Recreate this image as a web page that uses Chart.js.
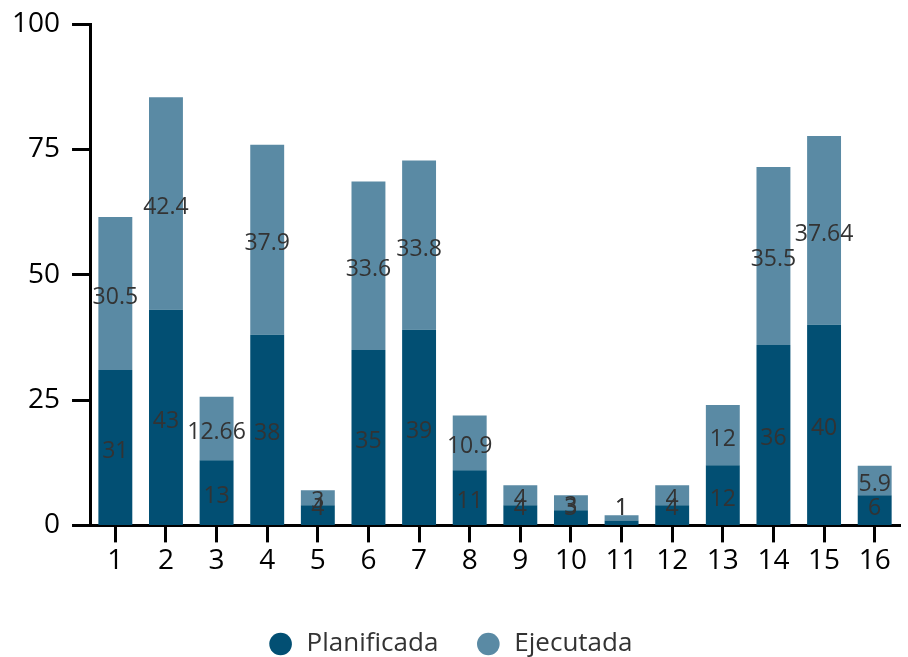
<!DOCTYPE html>
<html>
<head>
<meta charset="utf-8">
<script src="https://cdn.jsdelivr.net/npm/chart.js@4"></script>
<style>
    html, body { margin: 0; padding: 0; background: #ffffff; }
    #wrap { width: 908px; height: 657px; position: relative; }
</style>
</head>
<body>
<div id="wrap"><canvas id="chartBarras"></canvas></div>
<script>
// Data
const categorias = ['1', '2', '3', '4', '5', '6', '7', '8', '9', '10', '11', '12', '13', '14', '15', '16'];
const planificada = [31, 43, 13, 38, 4, 35, 39, 11, 4, 3, 1, 4, 12, 36, 40, 6];
const ejecutada = [30.5, 42.4, 12.66, 37.9, 3, 33.6, 33.8, 10.9, 4, 3, 1, 4, 12, 35.5, 37.64, 5.9];
const ticksY = [0, 25, 50, 75, 100];

const FUENTE = "'Open Sans', 'DejaVu Sans', sans-serif";

// Simple value labels drawn in the middle of each segment
const etiquetasPlugin = {
    id: 'etiquetas',
    afterDatasetsDraw(chart) {
        const ctx = chart.ctx;
        const area = chart.chartArea;
        ctx.save();
        ctx.font = '23px ' + FUENTE;
        ctx.fillStyle = '#333333';
        ctx.textAlign = 'center';
        ctx.textBaseline = 'middle';
        chart.data.datasets.forEach((ds, i) => {
            const meta = chart.getDatasetMeta(i);
            meta.data.forEach((bar, j) => {
                const centro = (bar.y + bar.base) / 2;
                const y = Math.min(centro + 4, area.bottom - 17);
                ctx.fillText(String(ds.data[j]), bar.x, y);
            });
        });
        ctx.restore();
    }
};

const ctx = document.getElementById('chartBarras');
new Chart(ctx, {
    type: 'bar',
    data: {
        labels: categorias,
        datasets: [{
            label: 'Planificada',
            data: planificada,
            backgroundColor: '#024f73',
            barPercentage: 0.67,
            categoryPercentage: 1
        }, {
            label: 'Ejecutada',
            data: ejecutada,
            backgroundColor: '#5a8aa4',
            barPercentage: 0.67,
            categoryPercentage: 1
        }]
    },
    options: {
        responsive: true,
        maintainAspectRatio: false,
        animation: false,
        layout: {
            padding: { top: 0, right: 8, left: 0, bottom: -10 }
        },
        plugins: {
            legend: {
                position: 'bottom',
                title: {
                    display: true,
                    text: '',
                    padding: 1,
                    font: { size: 10 }
                },
                labels: {
                    usePointStyle: true,
                    pointStyle: 'circle',
                    boxHeight: 16,
                    padding: 37,
                    color: '#333333',
                    font: { family: FUENTE, size: 26 }
                }
            },
            tooltip: { enabled: false }
        },
        scales: {
            x: {
                stacked: true,
                grid: {
                    offset: false,
                    drawOnChartArea: false,
                    drawTicks: true,
                    tickLength: 17,
                    tickWidth: 3,
                    tickColor: '#000000'
                },
                border: { color: '#000000', width: 3 },
                ticks: {
                    color: '#000000',
                    padding: 2,
                    font: { family: FUENTE, size: 28 }
                }
            },
            y: {
                stacked: true,
                min: 0,
                max: 100,
                afterBuildTicks: (axis) => {
                    axis.ticks = ticksY.map(v => ({ value: v }));
                },
                afterFit: (axis) => {
                    // keep the top tick where the reference has it
                    axis.paddingTop = 24;
                },
                grid: {
                    drawOnChartArea: false,
                    drawTicks: true,
                    tickLength: 18,
                    tickWidth: 3,
                    tickColor: '#000000'
                },
                border: { color: '#000000', width: 3 },
                ticks: {
                    color: '#000000',
                    padding: 12,
                    font: { family: FUENTE, size: 28 }
                }
            }
        }
    },
    plugins: [etiquetasPlugin]
});
</script>
</body>
</html>
